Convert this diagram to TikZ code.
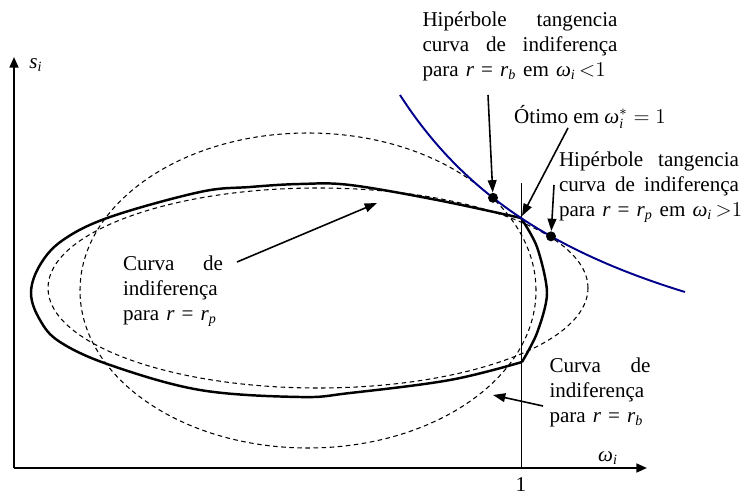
\documentclass[tikz,border=0pt]{standalone}
\usepackage{amsmath}
\usepackage{fontspec}
\setmainfont{Liberation Serif}
\usetikzlibrary{arrows.meta}

\newcommand{\omi}{\textit{ω}_{\textit{i}}}

\begin{document}
\begin{tikzpicture}
	\tikzstyle{axis} = [line width=1.1pt, -{Triangle[length=6pt,width=5pt]}]
	\tikzstyle{indif} = [line width=1.4pt, line join=round]
	\tikzstyle{tracejado} = [line width=0.6pt, dash pattern=on 2.6pt off 2pt]
	\tikzstyle{hiperbole} = [line width=1.1pt, draw={rgb,255:red,0;green,0;blue,140}]
	\tikzstyle{ponto} = [circle, fill=black, inner sep=0pt, minimum size=0.2cm]
	\tikzstyle{seta} = [line width=0.9pt, -{Triangle[length=7pt,width=5pt]}]
	\tikzstyle{texto} = [inner sep=0pt, font=\fontsize{12}{14.2}\selectfont, align=left]

	\useasboundingbox (-0.28,-0.54) rectangle (14.62,9.36);

%----------Eixos------------------------------
	\coordinate (O) at (0,0);
	\coordinate (ytip) at (0,8.22);
	\coordinate (xtip) at (12.66,0);
	\coordinate (um) at (10.14,0);
	\coordinate (umtop) at (10.14,5.7);

	\draw[axis] (O) -- (ytip);
	\draw[axis] (O) -- (xtip);
	\draw[line width=0.5pt] (um) -- (umtop);

	\node[texto, right] (si) at (0.3,8.06) {$\textit{s}_{\textit{i}}$};
	\node[texto] (wi) at (11.88,0.2) {$\omi$};
	\node[texto] (lab1) at (10.14,-0.34) {1};

%----------Curvas de indiferença------------------------------
	\draw[tracejado] (5.88,3.55) ellipse [x radius=4.56, y radius=3.15];
	\draw[tracejado] (6.08,3.6) ellipse [x radius=5.4, y radius=2.0];

	\draw[indif] plot[smooth, tension=0.6] coordinates {(10.14,5.0) (8.46,5.36) (6.72,5.66)
		(5.72,5.68) (4.72,5.62) (3.72,5.52) (1.92,5.02) (0.98,4.56) (0.52,4.06) (0.34,3.5)
		(0.52,2.96) (0.92,2.52) (1.92,2.06) (3.72,1.56) (5.72,1.42) (6.72,1.5) (8.72,1.76)
		(10.16,2.12)}
		plot[smooth] coordinates {(10.16,2.12) (10.46,2.7) (10.66,3.5) (10.46,4.42) (10.14,5.0)};

%----------Hipérbole------------------------------
	\draw[hiperbole] plot[domain=7.72:13.42, samples=80] (\x, {0.373+32.26/(\x-3.168)});

	\node[ponto] (pb) at (9.58,5.404) {};
	\node[ponto] (pp) at (10.74,4.633) {};
	\coordinate (otimo) at (10.16,5.04);

%----------Textos------------------------------
	\node[texto, text width=3.9cm] (hipb) at (10.12,8.44)
		{Hipérbole\hfill tangencia\\ curva\hfill de\hfill indiferença\\
		\mbox{para \textit{r} = \textit{r}\textsubscript{\textit{b}} em $\omi\,{<}1$}};
	\node[texto] (ot) at (11.52,7.02) {Ótimo em $\textit{ω}^{*}_{\textit{i}}=1$};
	\node[texto, text width=3.6cm] (hipp) at (12.7,5.62)
		{Hipérbole\hfill tangencia\\ curva\hfill de\hfill indiferença\\
		\mbox{para \textit{r} = \textit{r}\textsubscript{\textit{p}} em $\omi\,{>}1$}};
	\node[texto, text width=2.0cm] (cp) at (3.18,3.54)
		{Curva\hfill de\\ indiferença\\ para \textit{r} = \textit{r}\textsubscript{\textit{p}}};
	\node[texto, text width=2.02cm] (cb) at (11.72,1.52)
		{Curva\hfill de\\ indiferença\\ para \textit{r} = \textit{r}\textsubscript{\textit{b}}};

%----------Setas------------------------------
	\coordinate (s1) at (9.48,7.46);
	\coordinate (s2) at (11.08,6.8);
	\coordinate (s3) at (10.8,5.66);
	\coordinate (s4) at (4.46,4.12);
	\coordinate (e4) at (7.26,5.3);
	\coordinate (s5) at (10.58,1.24);
	\coordinate (e5) at (9.58,1.46);

	\draw[seta] (s1) -- (pb);
	\draw[seta] (s2) -- (otimo);
	\draw[seta] (s3) -- (pp);
	\draw[seta] (s4) -- (e4);
	\draw[seta] (s5) -- (e5);

\end{tikzpicture}
\end{document}
